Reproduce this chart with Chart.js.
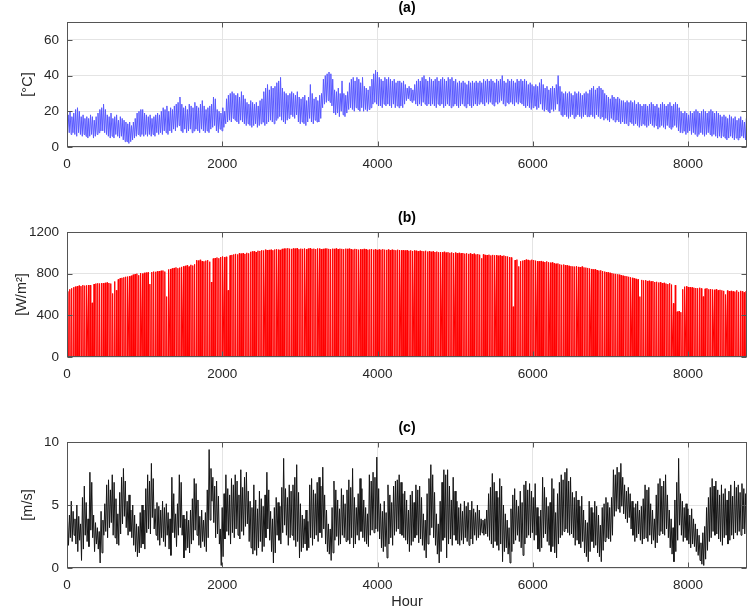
<!DOCTYPE html>
<html>
<head>
<meta charset="utf-8">
<script src="https://cdn.jsdelivr.net/npm/chart.js@4.4.1/dist/chart.umd.min.js"></script>
<style>
  body { margin: 0; background: #fff; }
  #wrap { position: relative; width: 749px; height: 612px; }
  canvas { position: absolute; left: 0; }
</style>
</head>
<body>
<div id="wrap">
  <canvas id="chartA" width="749" height="200" style="top:0px"></canvas>
  <canvas id="chartB" width="749" height="200" style="top:210px"></canvas>
  <canvas id="chartC" width="749" height="192" style="top:420px"></canvas>
</div>
<script>
// hourly series drawn as one low/high (or 0/peak) pair per day
const HOURS = 8760
const xTicks = [0, 2000, 4000, 6000, 8000]

// (a) temperature, daily max / min [°C]
const tempMax = [
  18,20,17,19,21,22,20,17,18,16, 17,16,18,17,15,17,19,21,22,24,
  21,18,17,19,16,17,18,15,17,16, 15,14,13,14,12,14,16,19,20,21,
  21,19,18,17,18,16,17,18,19,18, 20,22,21,23,20,22,21,23,24,25,
  28,24,22,23,21,24,23,22,25,23, 22,24,26,23,21,22,23,24,28,27,
  21,20,19,22,20,27,29,30,31,30, 29,30,28,31,29,27,25,24,26,25,
  24,25,23,26,27,31,33,35,32,34, 33,34,36,37,39,33,31,30,29,30,
  31,30,29,31,28,27,28,29,26,28, 35,30,27,28,26,29,30,38,40,41,
  42,41,38,32,31,33,30,37,30,29, 31,36,38,39,37,39,38,36,39,34,
  33,32,34,38,41,43,42,39,38,37, 39,38,39,38,37,38,36,37,37,36,
  37,35,33,34,33,32,35,37,38,37, 39,40,38,37,39,38,37,38,39,37,
  38,39,38,37,39,38,39,37,38,36, 37,36,37,36,35,37,36,37,36,37,
  36,37,36,38,37,38,37,38,37,36, 38,37,38,40,37,36,38,37,38,37,
  36,38,37,38,37,38,37,35,36,35, 34,35,34,36,38,35,33,34,32,33,
  34,33,35,40,34,31,30,31,30,31, 30,29,31,30,31,30,29,30,31,30,
  32,33,34,32,33,34,33,32,30,29, 28,27,29,28,27,28,27,26,26,25,
  26,25,26,25,26,24,25,24,23,24, 24,23,24,25,24,23,24,22,24,25,
  24,23,24,25,23,24,25,24,22,20, 19,20,19,18,20,19,20,21,20,19,
  20,21,20,19,20,21,20,19,20,19, 18,17,18,17,16,18,17,16,17,15,
  16,17,15,14,16
]
const tempMin = [
  9,8,7,8,7,6,8,7,6,7, 6,5,6,7,5,6,7,8,9,9,
  8,7,6,5,6,5,7,6,5,6, 4,3,3,2,3,4,5,6,7,6,
  7,6,7,6,7,6,7,6,8,7, 8,7,9,8,7,9,8,10,9,11,
  12,9,8,10,8,9,10,8,9,10, 9,8,10,9,8,9,8,10,11,12,
  9,8,10,9,11,13,14,15,14,16, 15,14,13,15,14,13,12,13,12,11,
  12,13,11,12,13,14,12,13,14,15, 14,13,15,16,17,15,14,13,15,16,
  18,17,16,18,14,13,14,13,12,14, 16,14,13,15,14,14,16,22,24,25,
  26,25,23,19,18,19,17,20,18,17, 19,21,22,21,20,22,21,20,22,20,
  21,20,21,22,24,25,24,23,23,22, 24,23,24,23,22,24,22,23,22,23,
  22,24,26,27,26,25,26,24,23,24, 23,25,24,23,24,23,24,23,22,24,
  23,24,22,23,24,23,22,23,24,23, 22,23,24,23,22,24,23,22,23,24,
  23,24,25,24,23,25,24,25,24,23, 25,24,25,26,24,23,25,24,25,24,
  23,25,24,25,24,23,22,23,22,21, 22,23,21,22,24,21,20,21,20,19,
  21,20,21,24,20,18,17,18,17,16, 17,18,16,17,18,17,16,17,18,17,
  17,18,17,16,18,17,16,17,15,16, 15,14,16,15,14,15,14,13,14,13,
  13,12,14,13,12,13,12,11,12,13, 12,11,12,13,12,11,12,10,11,12,
  11,10,12,11,10,11,12,11,9,8, 8,9,7,8,9,7,8,7,6,7,
  8,7,6,7,8,7,6,7,6,5, 6,5,6,5,4,5,6,5,4,5,
  4,5,6,5,4
]

// (b) solar irradiance, daily peak [W/m2]
const solarPeak = [
  630,650,660,670,675,680,685,680,690,685, 688,690,690,520,700,705,708,706,710,708,
  712,715,710,705,610,725,640,745,755,760, 765,770,772,775,780,790,795,800,785,805,
  800,808,810,812,700,815,820,818,822,825, 828,830,820,580,840,845,850,855,860,852,
  858,865,870,875,880,868,885,878,890,930, 925,933,920,918,925,930,915,720,945,950,
  955,948,960,965,958,962,640,975,980,985, 990,985,995,992,997,990,1000,995,1010,1013,
  1015,1008,1020,1018,1025,1022,1030,1026,1028,1030, 1025,1032,1035,1030,1028,1038,1040,1042,1045,1040,
  1038,1042,1040,1045,1035,1040,1038,1042,1035,1040, 1045,1038,1040,1036,1042,1040,1035,1038,1040,1042,
  1038,1035,1040,1038,1042,1036,1040,1038,1035,1040, 1038,1040,1036,1032,1038,1035,1030,1034,1032,1038,
  1035,1030,1033,1036,1030,1034,1028,1032,1030,1035, 1030,1028,1032,1026,1030,1028,1025,1030,1027,1024,
  1026,1022,1025,1020,1024,1018,1022,1020,1015,1020, 1018,1015,1020,1012,1016,1010,1014,1008,1012,1006,
  1008,1005,1010,1002,1006,1000,1004,998,1002,996, 1000,995,998,992,996,990,994,988,992,985,
  988,982,948,985,980,978,982,975,980,976, 978,972,976,970,974,968,965,960,955,483,
  930,935,870,920,925,930,935,932,928,934, 930,925,920,918,922,915,912,918,910,905,
  908,900,895,898,890,885,888,882,880,875, 872,870,868,872,865,862,868,860,858,855,
  850,845,840,842,835,830,832,825,820,815, 812,808,805,800,798,795,790,785,780,778,
  775,770,765,760,755,750,745,580,740,735, 738,730,732,725,728,720,722,715,718,710,
  712,705,700,708,695,515,690,435,440,430, 650,675,678,672,670,668,665,662,660,665,
  658,580,655,660,650,652,648,645,650,640, 645,640,635,600,638,632,635,630,628,640,
  625,635,630,620,632
]

// (c) wind speed, daily max / min [m/s]
const windMax = [
  3.7,4.2,5.3,4.5,3.9,5.0,4.1,3.5,5.6,6.5, 5.2,3.9,7.6,6.8,4.2,3.6,3.2,2.9,4.5,3.8,
  5.1,6.6,7.0,6.2,7.4,6.8,5.5,4.3,6.0,7.2, 7.9,6.9,5.3,5.8,4.6,5.0,4.2,3.5,3.3,4.4,
  5.0,4.6,6.3,7.4,6.9,8.3,7.1,4.7,5.2,4.9, 4.6,5.3,4.8,5.1,4.4,3.9,7.2,5.9,4.3,5.1,
  7.4,6.8,4.2,3.9,4.5,3.8,4.6,5.5,7.1,6.7, 5.4,4.1,4.6,3.8,4.4,6.2,9.4,7.9,7.2,6.5,
  6.9,5.7,3.1,4.8,5.9,7.4,6.3,5.8,7.1,6.6, 7.4,6.9,5.8,7.8,6.4,7.2,7.6,6.1,5.3,4.8,
  6.6,5.4,4.7,6.1,5.5,4.9,5.8,7.6,6.2,4.5, 3.9,4.8,5.6,5.2,4.9,6.4,8.7,6.3,5.6,6.6,
  6.1,6.6,7.2,8.2,6.0,5.1,4.2,3.9,4.6,3.7, 6.6,7.1,6.2,5.9,6.8,7.2,6.5,8.0,5.8,4.6,
  3.5,3.1,4.8,6.9,6.2,5.4,4.7,6.3,5.8,5.1, 6.2,7.0,6.4,7.9,5.6,4.8,5.9,7.1,6.3,5.4,
  4.8,4.3,7.4,6.9,7.6,7.2,8.8,6.3,5.1,4.5, 5.3,4.4,6.6,5.8,5.2,6.5,6.9,7.0,7.4,6.8,
  5.9,6.1,5.4,4.6,5.8,6.1,5.2,6.6,6.2,6.5, 5.6,4.3,3.8,5.9,7.1,8.2,7.4,6.0,4.3,3.5,
  5.3,6.8,7.8,7.4,7.8,6.5,5.4,7.2,6.1,5.3, 4.8,5.1,4.5,5.3,4.9,5.2,4.6,5.3,4.7,4.4,
  5.0,4.6,3.9,3.8,3.9,4.6,5.9,6.4,7.5,6.8, 6.1,5.6,7.1,6.5,5.0,4.3,3.8,3.2,4.7,5.8,
  6.3,5.4,4.9,6.1,5.2,6.6,6.9,6.2,6.7,6.1, 5.6,6.7,4.8,4.1,4.6,7.2,6.4,5.6,4.9,5.2,
  7.1,6.3,4.4,5.9,6.8,7.4,7.0,7.6,7.9,6.9, 7.2,6.0,5.6,6.1,5.4,4.9,5.7,4.6,3.8,3.6,
  5.3,4.8,4.4,5.3,4.9,4.2,3.4,4.8,5.1,5.6, 5.2,4.8,5.6,7.8,7.4,8.0,7.6,8.3,7.2,6.6,
  6.1,6.4,5.9,5.3,4.8,5.1,5.3,4.6,4.9,5.5, 6.6,6.2,6.4,5.1,4.6,3.9,5.8,6.7,7.1,6.5,
  6.9,7.4,5.8,4.6,3.9,3.2,5.4,6.8,8.7,5.9, 5.3,4.8,5.1,4.7,4.2,4.7,3.9,3.5,3.1,2.6,
  2.0,2.8,3.3,4.8,5.6,6.4,7.1,6.5,6.9,6.2, 5.8,6.6,5.9,6.3,5.4,6.1,6.6,5.7,6.9,6.4,
  6.6,6.0,6.7,6.3,5.9
]
const windMin = [
  1.8,2.4,2.1,2.6,1.9,1.3,2.2,0.6,1.5,2.6, 2.1,1.7,3.0,2.4,1.3,1.9,1.5,0.4,1.2,2.6,
  2.9,2.4,3.2,3.6,2.6,2.4,1.9,1.8,2.7,3.5, 4.1,3.2,2.6,2.9,2.4,1.8,1.3,0.9,1.2,1.6,
  1.9,1.5,2.8,3.1,2.7,4.0,3.1,2.6,2.2,1.8, 2.4,2.1,1.7,2.6,1.5,1.0,2.8,2.4,1.7,2.6,
  3.2,2.6,0.8,1.4,1.6,1.2,1.9,2.2,3.0,2.6, 1.8,1.6,2.1,1.7,1.3,2.4,3.8,5.3,3.6,2.4,
  2.7,1.9,0.2,0.9,2.3,2.9,2.6,1.9,2.8,2.4, 3.1,2.6,2.3,2.9,2.6,3.3,3.5,2.1,1.6,1.1,
  1.4,1.0,1.6,2.1,1.3,1.7,2.4,3.1,2.2,1.3, 0.4,1.2,2.6,2.2,1.9,2.8,3.4,2.6,1.8,2.4,
  2.6,2.2,1.7,2.1,0.8,1.3,1.6,1.9,1.4,1.6, 2.4,1.8,2.3,2.6,2.1,2.8,2.4,3.1,1.9,1.3,
  1.1,0.6,1.2,2.2,2.5,1.8,1.9,2.6,2.4,2.1, 2.2,1.9,2.4,1.6,1.9,2.6,2.2,2.9,2.4,2.1,
  1.9,1.7,2.6,3.0,2.8,3.1,2.9,2.3,1.6,1.3, 1.7,0.8,1.9,2.4,1.8,2.6,2.9,3.1,2.7,2.6,
  2.4,2.2,1.9,1.3,1.8,2.1,2.4,2.6,2.0,2.3, 1.8,1.4,0.8,1.9,2.6,3.2,2.4,1.8,1.1,0.4,
  1.3,2.2,2.4,0.8,1.9,2.3,1.8,2.6,2.2,1.9, 1.8,2.2,1.9,2.4,2.1,1.8,2.3,1.9,2.6,2.2,
  2.4,2.6,2.8,2.6,2.7,2.5,2.2,1.9,1.6,2.1, 1.8,1.4,1.9,0.5,1.3,1.6,1.1,0.4,1.3,1.9,
  2.2,2.6,2.1,1.6,1.0,1.9,2.4,2.6,2.4,2.8, 2.2,2.6,1.5,1.3,1.6,2.4,2.7,2.1,1.8,1.3,
  1.7,1.2,0.8,1.9,2.4,2.6,2.9,3.1,2.8,2.6, 2.7,2.4,1.8,2.2,1.9,1.6,2.1,1.2,0.9,0.5,
  1.3,2.1,1.6,1.8,1.2,0.9,0.5,1.4,2.1,2.4, 2.3,2.1,2.6,4.1,4.5,4.7,4.4,4.9,4.3,3.9,
  3.6,4.0,3.1,2.6,2.1,2.4,2.7,2.2,1.9,2.3, 2.4,2.1,2.6,1.9,2.2,1.6,2.0,2.6,2.9,2.7,
  2.6,3.1,2.4,1.6,1.1,0.5,1.3,2.2,3.4,2.6, 2.1,2.4,2.2,1.9,1.6,1.9,1.7,1.3,1.0,0.6,
  0.3,0.2,0.7,1.4,2.1,2.4,2.9,2.6,2.7,2.3, 2.1,1.8,2.4,2.6,1.9,2.2,2.6,2.3,2.8,2.6,
  2.9,2.6,3.1,2.7,2.4
]

const textColor = "#262626"
const gridColor = "#e4e4e4"
const fontFamily = "'Liberation Sans', Arial, Helvetica, sans-serif"

// build point lists
const tempPts = []
tempMin.forEach((v, d) => {
  tempPts.push({ x: d * 24 + 5, y: v })
  tempPts.push({ x: d * 24 + 15, y: tempMax[d] })
})
const solarPts = []
solarPeak.forEach((v, d) => {
  solarPts.push({ x: d * 24 + 6, y: 0 })
  solarPts.push({ x: d * 24 + 12, y: v })
  solarPts.push({ x: d * 24 + 18, y: 0 })
})
const windPts = []
windMax.forEach((v, d) => {
  windPts.push({ x: d * 24 + 7, y: v })
  windPts.push({ x: d * 24 + 19, y: windMin[d] })
})

// matlab style box with inward ticks
const boxPlugin = {
  id: "box",
  afterDraw(chart) {
    const { ctx, chartArea: a, scales } = chart
    const L = Math.round(a.left) + 0.5, R = Math.round(a.right) - 0.5
    const T = Math.round(a.top) + 0.5, B = Math.round(a.bottom) - 0.5
    ctx.save()
    ctx.strokeStyle = "#555"
    ctx.lineWidth = 1
    ctx.strokeRect(L, T, R - L, B - T)
    ctx.beginPath()
    scales.x.ticks.forEach((t) => {
      const px = Math.round(scales.x.getPixelForValue(t.value)) + 0.5
      ctx.moveTo(px, B); ctx.lineTo(px, B - 5)
      ctx.moveTo(px, T); ctx.lineTo(px, T + 5)
    })
    scales.y.ticks.forEach((t) => {
      const py = Math.round(scales.y.getPixelForValue(t.value)) + 0.5
      ctx.moveTo(L, py); ctx.lineTo(L + 5, py)
      ctx.moveTo(R, py); ctx.lineTo(R - 5, py)
    })
    ctx.stroke()
    ctx.restore()
  },
}

function panel(id, pts, color, title, yLabel, yLabelPad, yMax, yStep, xLabel, xAxisH) {
  return new Chart(document.getElementById(id), {
    type: "line",
    data: {
      datasets: [
        {
          data: pts,
          borderColor: color,
          borderWidth: 1,
          pointRadius: 0,
          tension: 0,
          fill: false,
        },
      ],
    },
    options: {
      responsive: false,
      animation: false,
      devicePixelRatio: 1,
      parsing: false,
      normalized: true,
      events: [],
      layout: { padding: { left: 0, right: 2, top: 0, bottom: 0 } },
      plugins: {
        legend: { display: false },
        tooltip: { enabled: false },
        title: {
          display: true,
          text: title,
          fullSize: false,
          color: "#000",
          font: { family: fontFamily, size: 14, weight: "bold" },
          padding: { top: 0, bottom: 5.2 },
        },
      },
      scales: {
        x: {
          type: "linear",
          min: 0,
          max: HOURS,
          afterFit: (s) => { s.height = xAxisH },
          afterBuildTicks: (s) => { s.ticks = xTicks.map((v) => ({ value: v })) },
          ticks: {
            color: textColor,
            font: { family: fontFamily, size: 13.5 },
            padding: 9,
            maxRotation: 0,
            autoSkip: false,
            callback: (v) => String(v),
          },
          grid: { color: gridColor, drawTicks: false },
          border: { display: false },
          title: {
            display: !!xLabel,
            text: xLabel || "",
            color: textColor,
            font: { family: fontFamily, size: 14.5 },
            padding: { top: 0, bottom: 1 },
          },
        },
        y: {
          min: 0,
          max: yMax,
          afterFit: (s) => { s.width = 67 },
          afterBuildTicks: (s) => {
            const t = []
            for (let v = 0; v <= yMax; v += yStep) t.push({ value: v })
            s.ticks = t
          },
          ticks: {
            color: textColor,
            font: { family: fontFamily, size: 13.5 },
            padding: 8,
            callback: (v) => String(v),
          },
          grid: { color: gridColor, drawTicks: false },
          border: { display: false },
          title: {
            display: true,
            text: yLabel,
            color: textColor,
            font: { family: fontFamily, size: 14.5 },
            padding: { top: yLabelPad, bottom: 0 },
          },
        },
      },
    },
    plugins: [boxPlugin],
  })
}

panel("chartA", tempPts, "rgb(88,88,255)", "(a)", "[°C]", 19, 70, 20, null, 53)
panel("chartB", solarPts, "rgb(255,0,0)", "(b)", "[W/m²]", 13, 1200, 400, null, 53)
panel("chartC", windPts, "rgb(20,20,20)", "(c)", "[m/s]", 19, 10, 5, "Hour", 44)
</script>
</body>
</html>
